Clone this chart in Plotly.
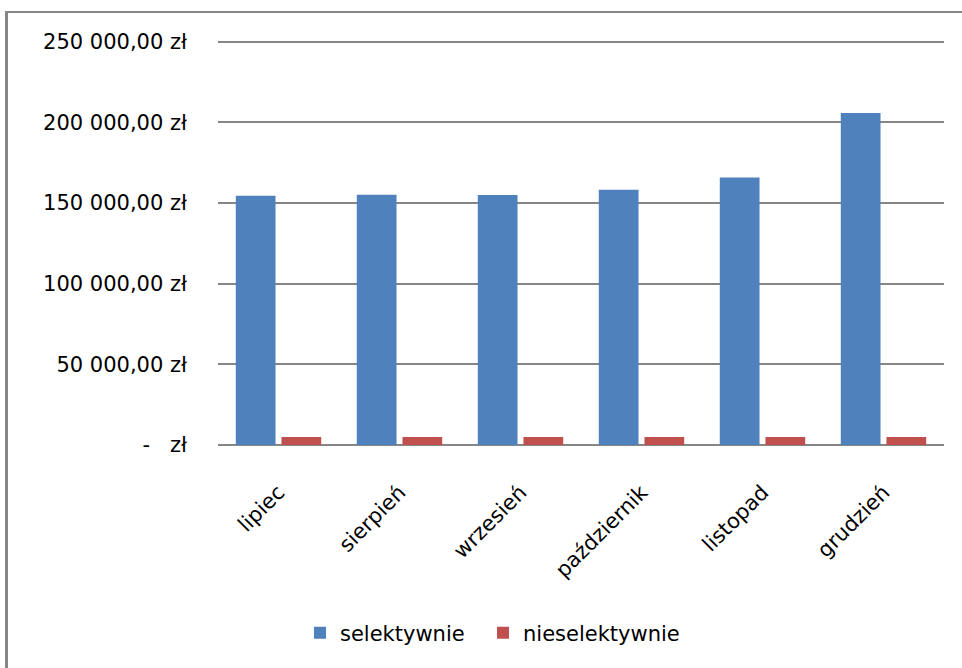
import plotly.graph_objects as go

months = ["lipiec", "sierpień", "wrzesień", "październik", "listopad", "grudzień"]
selektywnie = [154500, 155100, 155000, 158200, 165800, 205800]
nieselektywnie = [5000, 5000, 5000, 5000, 5000, 5000]

tick_vals = [0, 50000, 100000, 150000, 200000, 250000]
tick_text = ["-\u00a0\u00a0\u00a0zł", "50 000,00 zł", "100 000,00 zł", "150 000,00 zł",
             "200 000,00 zł", "250 000,00 zł"]

FONT = "DejaVu Sans"
GRID = "#868686"

W, H = 962, 668
YMAX = 251000
L = 218
R = W - 944
B = H - 445
ph = 403 * YMAX / 250000
T = H - B - ph
pw = W - L - R


def px_x(x):
    return (x - L) / pw


def px_y(y):
    return (H - B - y) / ph


fig = go.Figure()
fig.add_trace(go.Bar(x=months, y=selektywnie, name="selektywnie", marker_color="#4F81BD",
                     marker_line_width=0, legend="legend"))
fig.add_trace(go.Bar(x=months, y=nieselektywnie, name="nieselektywnie", marker_color="#C0504D",
                     marker_line_width=0, legend="legend2"))

leg_font = dict(family=FONT, size=21, color="black")

fig.update_layout(
    width=W, height=H,
    margin=dict(l=L, r=R, t=T, b=B, pad=0),
    paper_bgcolor="white", plot_bgcolor="white",
    barmode="group", bargap=0.245, bargroupgap=0.13,
    font=dict(family=FONT, size=21, color="black"),
    showlegend=True,
    legend=dict(orientation="h", xref="paper", yref="paper",
                x=px_x(300), xanchor="left", y=px_y(633), yanchor="middle",
                font=leg_font, bgcolor="rgba(0,0,0,0)"),
    legend2=dict(orientation="h", xref="paper", yref="paper",
                 x=px_x(483), xanchor="left", y=px_y(633), yanchor="middle",
                 font=leg_font, bgcolor="rgba(0,0,0,0)"),
    xaxis=dict(showgrid=False, showline=False, zeroline=False,
               tickangle=-45, ticklabelstandoff=30, ticks="",
               tickfont=dict(family=FONT, size=21, color="black")),
    yaxis=dict(range=[0, YMAX], tickvals=tick_vals, ticktext=tick_text,
               showgrid=True, gridcolor=GRID, gridwidth=1.5,
               zeroline=True, zerolinecolor=GRID, zerolinewidth=1.5,
               showline=False, ticks="", ticklabelstandoff=30,
               tickfont=dict(family=FONT, size=21, color="black")),
    shapes=[
        dict(type="line", xref="paper", yref="paper",
             x0=px_x(5), x1=px_x(1000), y0=px_y(12.5), y1=px_y(12.5),
             line=dict(color=GRID, width=2)),
        dict(type="line", xref="paper", yref="paper",
             x0=px_x(6.5), x1=px_x(6.5), y0=px_y(11.5), y1=px_y(700),
             line=dict(color=GRID, width=3)),
    ],
)

fig.write_html("out.html", config={"displayModeBar": False},
               post_script="document.body.style.margin='0px';")
